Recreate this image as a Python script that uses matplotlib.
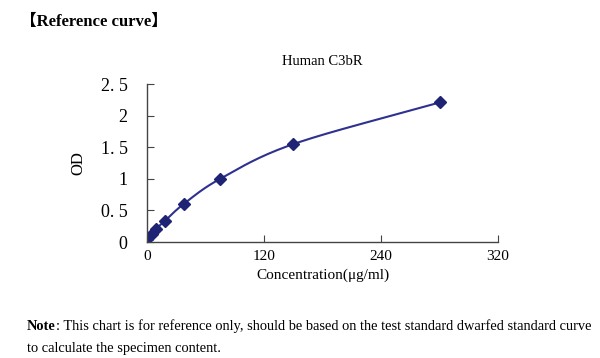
import numpy as np
import matplotlib
matplotlib.use("Agg")
import matplotlib.pyplot as plt

# standard curve points
conc = [0, 4.6875, 9.375, 18.75, 37.5, 75, 150, 300]
od = [0.04, 0.13, 0.21, 0.34, 0.60, 1.00, 1.55, 2.21]

x_ticks = [0, 120, 240, 360]
x_tick_labels = ["0", "120", "240", "320"]
y_ticks = [0, 0.5, 1, 1.5, 2, 2.5]
y_tick_labels = ["0", "0. 5", "1", "1. 5", "2", "2. 5"]

serif = ["Liberation Serif", "Noto Sans CJK SC"]
line_col = "#2e3190"
mark_col = "#1f2373"


def smooth(xs, ys, n=20):
    # catmull-rom pass through the points, like a spreadsheet smoothed line
    xs = np.asarray(xs, float)
    ys = np.asarray(ys, float)
    px = np.concatenate([[2 * xs[0] - xs[1]], xs, [2 * xs[-1] - xs[-2]]])
    py = np.concatenate([[2 * ys[0] - ys[1]], ys, [2 * ys[-1] - ys[-2]]])
    outx, outy = [], []
    t = np.linspace(0, 1, n)
    for i in range(1, len(px) - 2):
        for p, out in ((px, outx), (py, outy)):
            p0, p1, p2, p3 = p[i - 1], p[i], p[i + 1], p[i + 2]
            out.extend(0.5 * ((2 * p1) + (-p0 + p2) * t
                              + (2 * p0 - 5 * p1 + 4 * p2 - p3) * t ** 2
                              + (-p0 + 3 * p1 - 3 * p2 + p3) * t ** 3))
    return outx, outy


fig = plt.figure(figsize=(6, 3.58), dpi=100)
ax = fig.add_axes([0.245, 0.324, 0.585, 0.441])

sx, sy = smooth(conc, od)
ax.plot(sx, sy, color=line_col, lw=1.5)
ax.plot(conc, od, "D", color=mark_col, ms=6, ls="none")

ax.set_xlim(0, 360)
ax.set_ylim(0, 2.5)
ax.set_xticks(x_ticks)
ax.set_xticklabels(x_tick_labels, family=serif, fontsize=11)
ax.set_yticks(y_ticks)
ax.set_yticklabels(y_tick_labels, family=serif, fontsize=13)
ax.tick_params(axis="x", direction="in", length=5, color="#444444", pad=6)
ax.tick_params(axis="y", direction="in", length=5, color="#444444", pad=14)
for s in ["top", "right"]:
    ax.spines[s].set_visible(False)
for s in ["left", "bottom"]:
    ax.spines[s].set_color("#444444")
    ax.spines[s].set_linewidth(1.0)

ax.set_xlabel("Concentration(μg/ml)", family=serif, fontsize=11, labelpad=4)
ax.set_ylabel("OD", family=serif, fontsize=12, labelpad=10)
ax.set_title("Human C3bR", family=serif, fontsize=10.5, pad=14)

fig.text(0.033, 0.938, "【Reference curve】", family=serif, fontsize=12,
         fontweight="bold", va="center")
note = fig.text(0.045, 0.077, "Note", family=serif, fontsize=10.4,
                fontweight="bold", va="baseline")
ax.annotate(": This chart is for reference only, should be based on the test "
            "standard dwarfed standard curve", xy=(1, 0), xycoords=note,
            va="bottom", family=serif, fontsize=10.4, annotation_clip=False)
fig.text(0.045, 0.017, "to calculate the specimen content.", family=serif,
         fontsize=10.4, va="baseline")

fig.savefig("out.png", dpi=100)
